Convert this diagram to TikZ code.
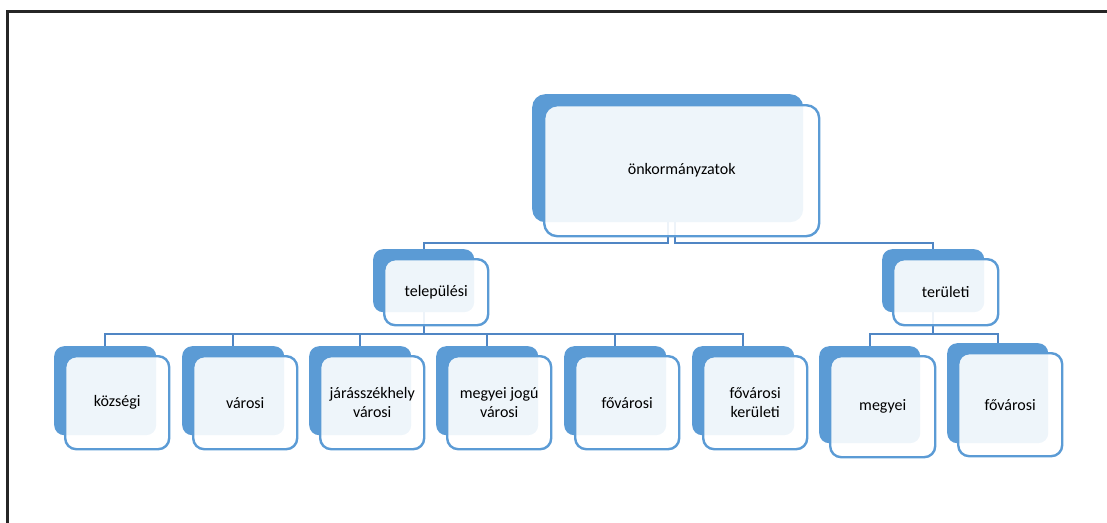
\documentclass[tikz,border=0pt]{standalone}
\usepackage{fontspec}
\setmainfont{Carlito}
\definecolor{boxblue}{RGB}{91,155,213}
\definecolor{connblue}{RGB}{80,134,196}
\pgfdeclarelayer{bg}
\pgfsetlayers{bg,main}
\begin{document}
\begin{tikzpicture}[x=1pt,y=-1pt,
  backbox/.style={fill=boxblue, rounded corners=10pt, inner sep=0pt, anchor=north west},
  frontbox/.style={draw=boxblue, line width=2.4pt, fill=white, fill opacity=0.9, text opacity=1,
    rounded corners=11pt, inner sep=0pt, anchor=north west, align=center,
    font=\fontsize{16}{19}\selectfont},
  conn/.style={draw=connblue, line width=2.3pt}]
\useasboundingbox (0,0) rectangle (1107,522);
% frame
\draw[line width=3pt, black!85, line cap=rect] (7,522) -- (7,11) -- (1107,11);
% root
\node[backbox, minimum width=271pt, minimum height=128pt, rounded corners=13pt] (root-b) at (532,94) {};
\node[frontbox, minimum width=275pt, minimum height=131pt, rounded corners=13pt] (root) at (543,104) {önkormányzatok};
% level 2
\node[backbox, minimum width=101pt, minimum height=63pt] (tel-b) at (373,249) {};
\node[frontbox, minimum width=104pt, minimum height=66pt] (tel) at (383,258) {települési};
\node[backbox, minimum width=102pt, minimum height=63pt] (ter-b) at (882,249) {};
\node[frontbox, minimum width=105pt, minimum height=66pt] (ter) at (892,258) {területi};
% leaves left
\foreach \n/\x/\t in {k1/54/községi, k2/182/városi, k3/309/{járásszékhely\\városi},
    k4/436/{megyei jogú\\városi}, k5/564/fővárosi, k6/692/{fővárosi\\kerületi}}{
  \node[backbox, minimum width=102pt, minimum height=89pt] (\n-b) at (\x,346) {};
  \node[frontbox, minimum width=104pt, minimum height=93pt] (\n) at (\x+10,355) {\t};
}
% leaves right
\node[backbox, minimum width=101pt, minimum height=97pt] (t1-b) at (819,346) {};
\node[frontbox, minimum width=105pt, minimum height=101pt] (t1) at (829,355) {megyei};
\node[backbox, minimum width=101pt, minimum height=100pt] (t2-b) at (947,343) {};
\node[frontbox, minimum width=104pt, minimum height=103pt] (t2) at (957,352) {fővárosi};
% connectors
\begin{pgfonlayer}{bg}
\coordinate (bar1) at (0,243);
\coordinate (bar2) at (0,334);
\coordinate (rootc2) at ([xshift=7pt]root-b.south);
\draw[conn] (root-b.south) -- (root-b.south |- bar1) -| (tel-b.north);
\draw[conn] (rootc2) -- (rootc2 |- bar1) -| (ter-b.north);
\foreach \n in {k1,k2,k3,k4,k5,k6}{
  \draw[conn] (tel-b.south) -- (tel-b.south |- bar2) -| (\n-b.north);
}
\foreach \n in {t1,t2}{
  \draw[conn] (ter-b.south) -- (ter-b.south |- bar2) -| (\n-b.north);
}
\end{pgfonlayer}
\end{tikzpicture}
\end{document}
